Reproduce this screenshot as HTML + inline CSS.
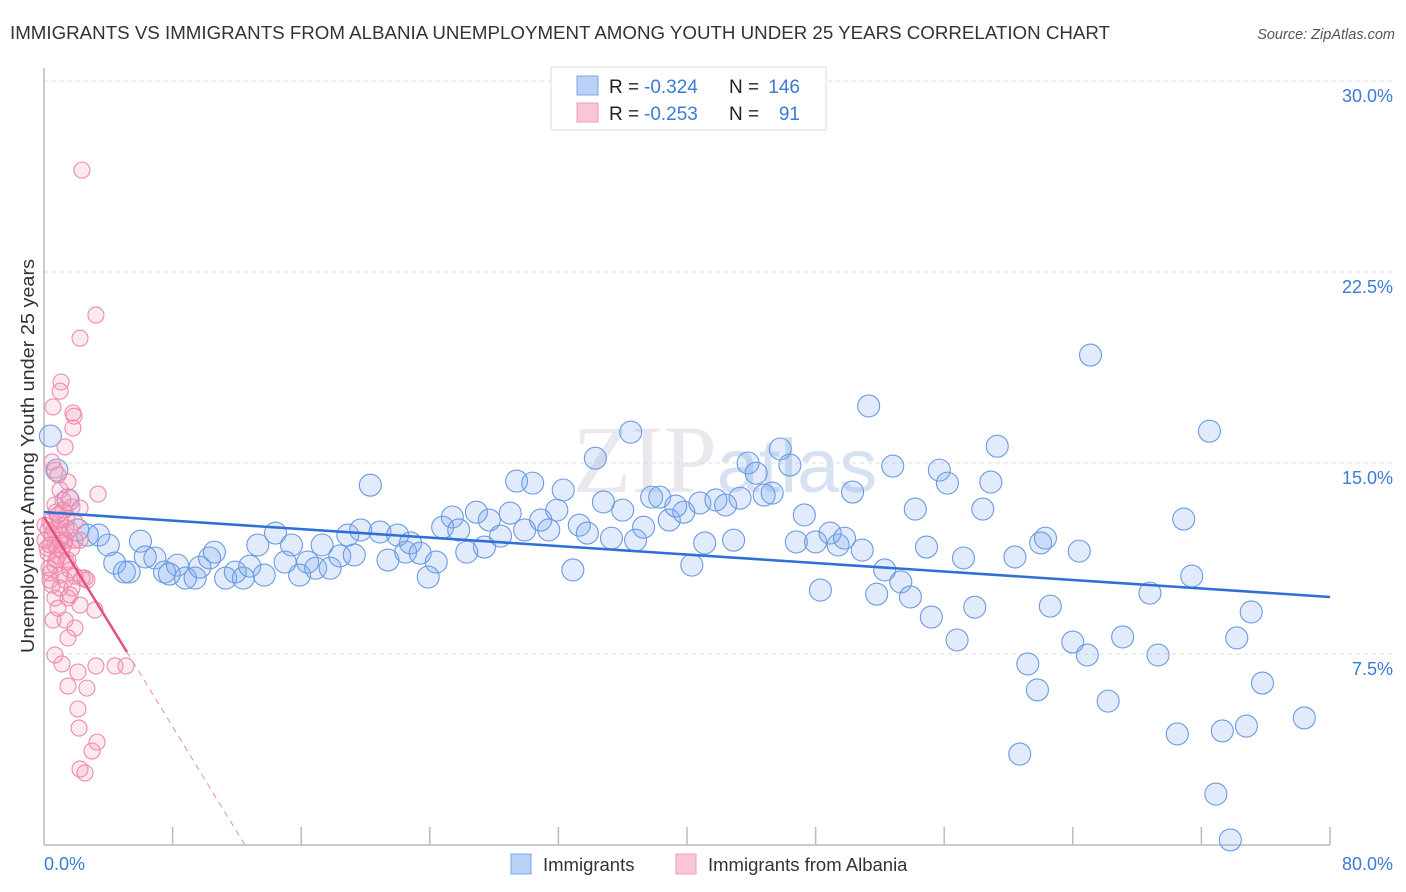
<!DOCTYPE html>
<html><head><meta charset="utf-8"><style>
body{margin:0;background:#fff;font-family:"Liberation Sans",sans-serif;}
svg{display:block}
</style></head><body>
<svg id="chart" width="1406" height="892" xmlns="http://www.w3.org/2000/svg">
<text x="10" y="39" font-size="18.6" fill="#333" textLength="1100" lengthAdjust="spacingAndGlyphs">IMMIGRANTS VS IMMIGRANTS FROM ALBANIA UNEMPLOYMENT AMONG YOUTH UNDER 25 YEARS CORRELATION CHART</text>
<text x="1395" y="39" font-size="14.5" fill="#555" font-style="italic" text-anchor="end">Source: ZipAtlas.com</text>
<text x="725" y="492" font-size="96" fill="#e8e8ee" text-anchor="middle" font-family="Liberation Serif, serif">ZIP<tspan font-family="Liberation Sans, sans-serif" font-size="76" fill="#d6e2f2">atlas</tspan></text>
<g id="grid"></g>
<g id="axes"></g>
<g id="pts"></g>
<g id="lines"></g>
<text transform="translate(34,456) rotate(-90)" font-size="18.5" fill="#333" text-anchor="middle" textLength="394" lengthAdjust="spacingAndGlyphs">Unemployment Among Youth under 25 years</text>
<g>
<rect x="551" y="67" width="275" height="63" fill="#fff" stroke="#ddd"/>
<rect x="577" y="76" width="21" height="19" fill="#b9d2f5" stroke="#7aa5e6"/>
<rect x="577" y="103" width="21" height="19" fill="#f9c6d6" stroke="#ee9bb6"/>
<text x="609" y="93" font-size="19" fill="#222">R =</text>
<text x="644" y="93" font-size="19" fill="#3a7bd5">-0.324</text>
<text x="729" y="93" font-size="19" fill="#222">N =</text>
<text x="800" y="93" font-size="19" fill="#3a7bd5" text-anchor="end">146</text>
<text x="609" y="120" font-size="19" fill="#222">R =</text>
<text x="644" y="120" font-size="19" fill="#3a7bd5">-0.253</text>
<text x="729" y="120" font-size="19" fill="#222">N =</text>
<text x="800" y="120" font-size="19" fill="#3a7bd5" text-anchor="end">91</text>
</g>
<g>
<rect x="511" y="854" width="20" height="20" fill="#b9d2f5" stroke="#7aa5e6"/>
<text x="543" y="871" font-size="18.5" fill="#333">Immigrants</text>
<rect x="676" y="854" width="20" height="20" fill="#f9c6d6" stroke="#ee9bb6"/>
<text x="708" y="871" font-size="18.5" fill="#333">Immigrants from Albania</text>
</g>
</svg>
<script>
const yTicks=[7.5,15,22.5,30];
const yTickLabels=["7.5%","15.0%","22.5%","30.0%"];
const xTickVals=[0,8,16,24,32,40,48,56,64,72,80];
const xEndLabels=["0.0%","80.0%"];
const blueX=[0.4,0.8,1.5,2.1,2.7,3.4,4.0,4.4,5.0,5.3,6.0,6.3,6.9,7.5,7.8,8.3,8.8,9.4,9.7,10.3,10.6,11.3,11.9,12.4,12.8,13.3,13.7,14.4,15.0,15.4,15.9,16.4,16.9,17.3,17.8,18.4,18.9,19.3,19.7,20.3,20.9,21.4,22.0,22.5,22.8,23.4,23.9,24.4,24.8,25.4,25.8,26.3,26.9,27.4,27.7,28.4,29.0,29.4,29.9,30.4,30.9,31.4,31.9,32.3,32.9,33.3,33.8,34.3,34.8,35.3,36.0,36.5,36.8,37.3,37.8,38.3,38.9,39.3,39.8,40.3,40.8,41.1,41.8,42.4,42.9,43.3,43.8,44.3,44.8,45.3,45.8,46.4,46.8,47.3,48.0,48.3,48.9,49.4,49.8,50.3,50.9,51.3,51.8,52.3,52.8,53.3,53.9,54.2,54.9,55.2,55.7,56.2,56.8,57.2,57.9,58.4,58.9,59.3,60.4,60.7,61.2,61.8,62.0,62.3,62.6,64.0,64.4,64.9,65.1,66.2,67.1,68.8,69.3,70.5,70.9,71.4,72.5,72.9,73.3,73.8,74.2,74.8,75.1,75.8,78.4];
const blueY=[16.06,14.72,13.55,12.37,12.17,12.17,11.78,11.07,10.72,10.72,11.93,11.31,11.27,10.72,10.64,10.99,10.48,10.48,10.91,11.27,11.50,10.48,10.72,10.48,10.95,11.78,10.60,12.25,11.11,11.78,10.60,11.11,10.87,11.78,10.87,11.35,12.17,11.39,12.37,14.13,12.29,11.19,12.17,11.50,11.86,11.46,10.52,11.11,12.48,12.88,12.37,11.50,13.07,11.70,12.76,12.13,13.03,14.29,12.37,14.21,12.76,12.37,13.15,13.94,10.80,12.56,12.25,15.19,13.47,12.05,13.15,16.21,11.97,12.48,13.66,13.66,12.76,13.31,13.07,10.99,13.43,11.86,13.55,13.35,11.97,13.62,15.00,14.60,13.74,13.82,15.55,14.92,11.90,12.96,11.90,10.01,12.25,11.78,12.05,13.86,11.58,17.24,9.85,10.80,14.88,10.33,9.74,13.19,11.70,8.95,14.72,14.21,8.05,11.27,9.34,13.19,14.25,15.66,11.31,3.57,7.11,6.09,11.86,12.05,9.38,7.97,11.54,7.46,19.24,5.65,8.17,9.89,7.46,4.36,12.80,10.56,16.25,2.00,4.48,0.20,8.13,4.67,9.15,6.36,4.99];
const pinkX=[2.36,3.23,2.24,1.06,1.00,1.80,1.87,1.80,0.56,1.31,0.50,0.68,1.49,1.00,3.36,1.18,2.24,1.74,0.68,1.43,1.00,0.37,0.87,1.93,1.62,0.50,1.31,0.68,1.12,0.25,0.87,1.49,2.24,0.68,1.62,0.37,1.31,1.93,2.55,1.00,1.74,0.68,1.49,0.87,2.24,3.17,0.56,1.31,1.93,1.49,0.68,1.12,2.11,3.23,4.42,5.10,1.49,2.67,2.11,2.18,2.99,3.30,2.24,2.55,0.37,0.75,0.06,0.19,1.12,0.75,1.24,1.74,0.87,1.62,0.25,0.50,1.00,1.37,1.62,0.31,1.00,0.62,1.37,1.93,1.18,0.87,0.06,0.37,2.36,2.67,0.81];
const pinkY=[26.50,20.81,19.90,18.18,17.82,16.96,16.84,16.37,17.20,15.63,15.04,14.72,14.25,13.94,13.78,13.54,13.23,13.27,13.35,12.84,12.76,12.68,12.45,12.68,12.37,12.17,11.97,11.78,11.58,11.46,11.35,11.19,11.97,10.99,10.80,10.68,10.40,10.56,10.48,10.09,10.09,9.70,9.70,9.30,9.42,9.23,8.83,8.83,8.52,8.13,7.46,7.11,6.79,7.03,7.03,7.03,6.24,6.16,5.34,4.59,3.69,4.04,2.98,2.83,10.40,13.07,11.97,11.66,12.17,11.19,11.78,11.66,12.96,13.62,12.37,10.21,10.60,11.11,9.82,10.88,11.97,12.37,12.45,11.97,13.15,14.53,12.56,11.78,10.48,10.40,11.66];
const blueTrend=[[0,13.07],[80,9.74]];
const pinkTrendSolid=[[0,12.88],[5.16,7.58]];
const pinkTrendDash=[[5.16,7.58],[12.5,0]];

const NS="http://www.w3.org/2000/svg";
const X0=44,X1=1330,Y0=845,Y30=81;
const sx=v=>X0+(X1-X0)*v/80;
const sy=v=>Y0-(Y0-Y30)*v/30;
function mk(tag,attrs,parent){const e=document.createElementNS(NS,tag);for(const k in attrs)e.setAttribute(k,attrs[k]);parent.appendChild(e);return e;}
const grid=document.getElementById('grid'),axes=document.getElementById('axes'),pts=document.getElementById('pts'),lines=document.getElementById('lines');
yTicks.forEach((t,i)=>{
  const l=mk('line',{x1:X0,x2:1393,y1:sy(t),y2:sy(t),stroke:'#ddd','stroke-dasharray':'4,4'},grid);
  
  
  const tx=mk('text',{x:1393,y:sy(t)+21,'font-size':18,fill:'#3a7bd5','text-anchor':'end'},grid);
  tx.textContent=yTickLabels[i];
  
  
});
const ya=mk('line',{x1:X0,x2:X0,y1:68,y2:Y0,stroke:'#bbb','stroke-width':1.5},axes);


const xa=mk('line',{x1:X0,x2:X1,y1:Y0,y2:Y0,stroke:'#bbb','stroke-width':1.5},axes);


xTickVals.forEach(t=>{
  if(t===0)return;
  const l=mk('line',{x1:sx(t),x2:sx(t),y1:Y0-18,y2:Y0,stroke:'#bbb','stroke-width':1.5},axes);
  
  
});
const xl0=mk('text',{x:X0,y:870,'font-size':18,fill:'#3a7bd5'},axes);
xl0.textContent=xEndLabels[0];


const xl1=mk('text',{x:1393,y:870,'font-size':18,fill:'#3a7bd5','text-anchor':'end'},axes);
xl1.textContent=xEndLabels[1];


blueX.forEach((x,i)=>{
  const c=mk('circle',{cx:sx(x),cy:sy(blueY[i]),r:11,fill:'rgba(120,165,235,0.22)',stroke:'#6b9be2','stroke-width':1.1},pts);
  
  
});
pinkX.forEach((x,i)=>{
  const c=mk('circle',{cx:sx(x),cy:sy(pinkY[i]),r:8,fill:'rgba(245,150,180,0.2)',stroke:'#ee8aac','stroke-width':1.1},pts);
  
  
});
const bl=mk('line',{x1:sx(blueTrend[0][0]),y1:sy(blueTrend[0][1]),x2:sx(blueTrend[1][0]),y2:sy(blueTrend[1][1]),stroke:'#2f6fd6','stroke-width':2.5},lines);


const pl=mk('line',{x1:sx(pinkTrendSolid[0][0]),y1:sy(pinkTrendSolid[0][1]),x2:sx(pinkTrendSolid[1][0]),y2:sy(pinkTrendSolid[1][1]),stroke:'#e4517f','stroke-width':2.5},lines);


const pd=mk('line',{x1:sx(pinkTrendDash[0][0]),y1:sy(pinkTrendDash[0][1]),x2:sx(pinkTrendDash[1][0]),y2:sy(pinkTrendDash[1][1]),stroke:'#e88aa8','stroke-width':1,'stroke-dasharray':'6,5'},lines);


</script>
</body></html>
